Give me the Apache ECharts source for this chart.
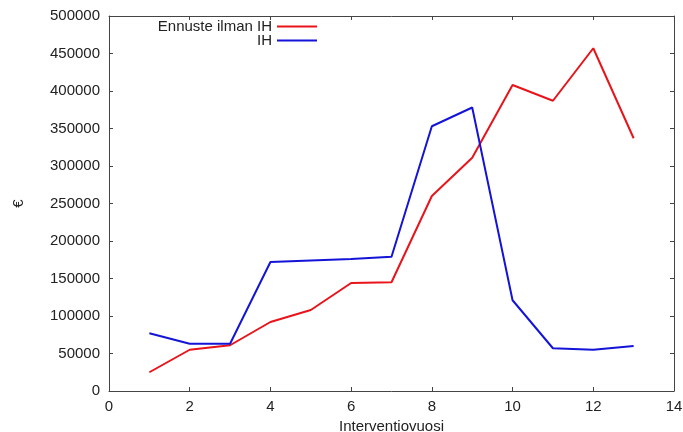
<!DOCTYPE html>
<html><head><meta charset="utf-8">
<script src="https://cdn.jsdelivr.net/npm/echarts@6/dist/echarts.min.js"></script>
<style>html,body{margin:0;padding:0;background:#fff}#c{width:683px;height:432px}</style>
</head><body><div id="c"></div>
<script>
const years = [1,2,3,4,5,6,7,8,9,10,11,12,13];
const ennuste = [25000,55000,61000,92000,108000,144000,145000,260000,311000,408000,387000,457000,337000];
const ih = [77000,63000,63000,172000,174000,176000,179000,353000,378000,121000,57000,55000,60000];
const seriesNames = ['Ennuste ilman IH','IH'];
const xName = 'Interventiovuosi';
const yName = '€';

const font = 'Liberation Sans, Arial, sans-serif';
const axisCol = '#444';
const chart = echarts.init(document.getElementById('c'));
const pair = (xs, ys) => xs.map((x,i)=>[x, ys[i]]);
const baseAxis = () => ({
  axisLine:{show:true,onZero:false,lineStyle:{color:axisCol,width:1}},
  axisTick:{show:true,inside:true,length:4,lineStyle:{color:axisCol}},
  splitLine:{show:false}
});
chart.setOption({
  animation:false,
  grid:{left:109,right:9,top:16,bottom:41,containLabel:false,outerBoundsMode:'none'},
  legend:[
    {data:[seriesNames[0]],orient:'vertical',align:'right',right:366,top:19,itemWidth:40,itemHeight:2,itemGap:0,padding:0,
     textStyle:{fontFamily:font,fontSize:15,color:'#222'},icon:'rect'},
    {data:[seriesNames[1]],orient:'vertical',align:'right',right:366,top:33,itemWidth:40,itemHeight:2,itemGap:0,padding:0,
     textStyle:{fontFamily:font,fontSize:15,color:'#222'},icon:'rect'}
  ],
  xAxis:[
    Object.assign(baseAxis(),{type:'value',min:0,max:14,interval:2,position:'bottom',
      name:xName,nameLocation:'middle',nameGap:26,
      nameTextStyle:{fontFamily:font,fontSize:15,color:'#222'},
      axisLabel:{fontFamily:font,fontSize:15,color:'#222',margin:8}}),
    Object.assign(baseAxis(),{type:'value',min:0,max:14,interval:2,position:'top',axisLabel:{show:false}})
  ],
  yAxis:[
    Object.assign(baseAxis(),{type:'value',min:0,max:500000,interval:50000,position:'left',
      name:yName,nameLocation:'middle',nameGap:83,nameRotate:90,
      nameTextStyle:{fontFamily:font,fontSize:15,color:'#222'},
      axisLabel:{fontFamily:font,fontSize:15,color:'#222',margin:9,formatter:v=>String(v)}}),
    Object.assign(baseAxis(),{type:'value',min:0,max:500000,interval:50000,position:'right',axisLabel:{show:false}})
  ],
  series:[
    {name:seriesNames[0],type:'line',data:pair(years,ennuste),showSymbol:false,symbol:'none',
     lineStyle:{color:'#e8141a',width:2},itemStyle:{color:'#e8141a'}},
    {name:seriesNames[1],type:'line',data:pair(years,ih),showSymbol:false,symbol:'none',
     lineStyle:{color:'#1414d8',width:2},itemStyle:{color:'#1414d8'}}
  ]
});
</script></body></html>
